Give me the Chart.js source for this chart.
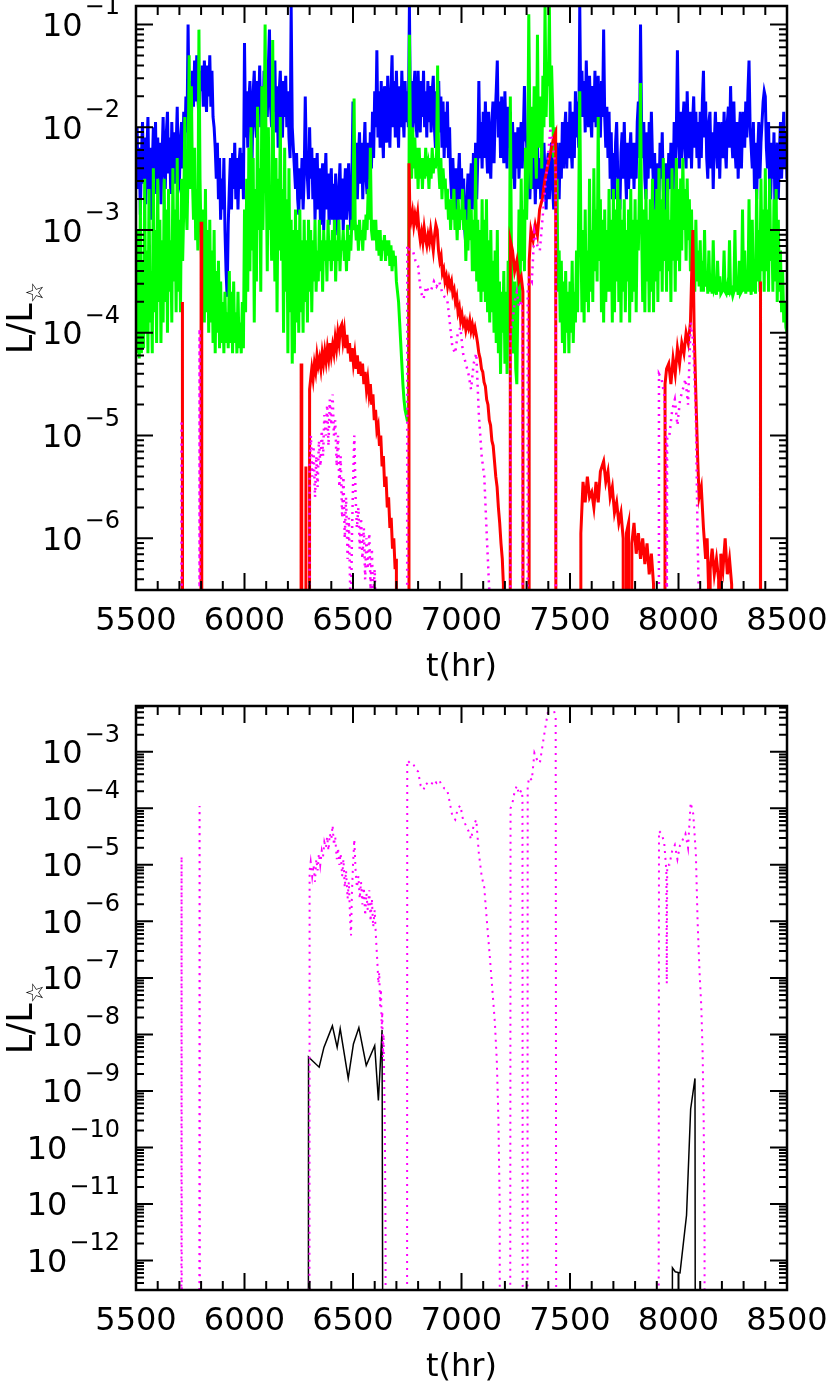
<!DOCTYPE html>
<html>
<head>
<meta charset="utf-8">
<script src="https://cdn.jsdelivr.net/npm/chart.js@4.4.1/dist/chart.umd.min.js"></script>
<style>
html, body { margin: 0; padding: 0; background: #fff; overflow: hidden; }
canvas { display: block; }
</style>
</head>
<body>
<canvas id="topChart" width="830" height="700"></canvas>
<canvas id="bottomChart" width="830" height="700"></canvas>
<script>
// x axis: time in hours
const X_MIN = 5500, X_MAX = 8500;
const X_TICKS = [5500, 6000, 6500, 7000, 7500, 8000, 8500];

// y axis ranges (log10 of L/L*)
const TOP_LOG_RANGE = [-6.503, -0.82];
const BOTTOM_LOG_RANGE = [-12.488, -2.189];

// value used where a curve drops to zero (off the bottom of the plot)
const OFF = -30;

// blue and green are sampled every 5 hr from 5500 hr; one row = 100 hr
const GRID_T0 = 5500, GRID_STEP = 5;

// log10(L/L*)
const blueLog = [
  -2.4,-2.0,-2.6,-2.2,-2.85,-2.3,-1.95,-2.55,-2.1,-2.75,-2.25,-1.9,-2.6,-2.2,-2.9,-2.4,-2.0,-2.5,-1.95,-2.65,
  -2.1,-2.5,-2.15,-2.75,-2.3,-1.9,-2.4,-2.6,-2.05,-1.85,-2.45,-2.1,-2.65,-1.95,-2.4,-2.05,-2.55,-2.2,-1.8,-2.5,
  -2.55,-2.1,-1.95,-2.4,-1.85,-2.2,-1.7,-2.05,-1.0,-1.9,-1.55,-1.95,-1.45,-1.8,-1.35,-1.75,-1.3,-1.7,-1.9,-1.45,
  -1.65,-1.4,-1.8,-1.35,-1.6,-1.85,-1.4,-1.7,-1.3,-1.8,-1.45,-1.9,-2.0,-2.2,-2.5,-2.15,-2.7,-2.3,-2.9,-2.5,
  -2.8,-2.3,-3.0,-3.4,-3.65,-2.95,-2.6,-2.3,-2.8,-2.25,-2.6,-2.15,-2.7,-2.3,-2.8,-2.35,-2.2,-2.6,-2.25,-2.7,
  -1.18,-2.1,-1.65,-2.2,-1.75,-1.55,-2.0,-2.3,-1.65,-1.45,-1.95,-2.1,-1.55,-1.85,-1.4,-2.0,-1.6,-2.15,-1.45,-1.9,
  -1.5,-1.9,-1.4,-1.05,-1.8,-2.0,-1.5,-1.85,-1.35,-2.05,-1.6,-2.2,-1.65,-1.45,-1.95,-2.1,-1.55,-1.9,-1.5,-2.0,
  -1.65,-2.1,-2.3,-0.82,-2.0,-2.2,-2.4,-2.6,-2.25,-2.7,-2.85,-2.4,-2.7,-2.3,-2.8,-2.5,-1.7,-2.3,-2.5,-2.7,
  -2.0,-2.5,-2.2,-2.7,-2.3,-2.9,-2.5,-2.25,-2.8,-2.4,-2.95,-2.6,-2.35,-3.0,-2.55,-2.25,-2.8,-2.45,-2.95,-2.6,
  -2.4,-2.9,-2.55,-3.0,-2.45,-2.8,-3.05,-2.6,-2.35,-2.9,-2.5,-3.0,-2.65,-2.4,-2.9,-2.55,-2.35,-2.8,-3.0,-2.5,
  -1.75,-2.4,-2.6,-2.15,-2.7,-2.3,-2.05,-2.55,-2.15,-2.7,-2.25,-1.95,-2.5,-2.65,-2.15,-2.5,-2.05,-2.4,-1.85,-2.3,
  -1.65,-2.0,-1.25,-2.1,-1.65,-2.2,-1.55,-2.0,-2.3,-1.6,-1.95,-2.15,-1.5,-1.9,-2.2,-1.65,-1.3,-2.0,-1.55,-2.1,
  -1.45,-1.9,-2.2,-1.6,-2.0,-1.45,-1.85,-2.1,-1.55,-1.95,-1.65,-2.0,-0.82,-2.0,-1.55,-2.05,-1.65,-1.45,-1.95,-2.1,
  -1.45,-1.85,-2.05,-1.55,-1.9,-1.45,-2.0,-1.65,-2.1,-1.55,-1.95,-1.6,-2.05,-1.65,-1.5,-2.0,-2.2,-1.65,-1.95,-1.55,
  -2.05,-1.7,-2.2,-1.75,-2.3,-1.85,-2.2,-1.75,-2.3,-2.0,-2.5,-2.7,-2.3,-2.6,-2.9,-2.4,-2.8,-2.5,-2.25,-2.7,
  -2.4,-2.8,-2.5,-3.0,-3.15,-2.7,-2.45,-2.9,-2.6,-2.35,-2.8,-2.25,-2.6,-2.15,-2.7,-2.3,-1.55,-2.3,-1.95,-2.4,
  -1.85,-2.3,-1.75,-2.2,-2.45,-1.85,-2.3,-2.5,-1.95,-1.75,-2.35,-1.9,-1.65,-1.35,-2.1,-1.75,-2.3,-1.7,-2.1,-2.35,
  -1.65,-2.1,-2.4,-1.8,-2.2,-1.85,-2.5,-1.95,-2.3,-2.6,-2.05,-2.4,-2.0,-2.5,-2.15,-1.95,-2.4,-2.05,-1.6,-2.1,
  -2.15,-2.6,-2.25,-2.7,-2.35,-2.1,-2.6,-2.25,-2.75,-2.35,-2.15,-2.6,-2.3,-2.7,-2.25,-2.6,-2.15,-2.5,-2.8,-2.35,
  -2.25,-2.7,-2.35,-2.15,-2.6,-2.8,-2.25,-2.6,-2.15,-2.5,-2.7,-2.15,-2.5,-1.95,-2.4,-2.05,-1.85,-2.4,-1.95,-2.3,
  -1.75,-2.2,-2.4,-1.85,-2.3,-1.65,-2.1,-1.75,-2.2,-0.82,-1.9,-1.45,-1.9,-1.55,-2.05,-1.35,-1.8,-2.0,-1.5,-1.9,
  -2.1,-1.6,-1.95,-1.45,-2.0,-1.65,-1.5,-2.0,-2.1,-1.55,-1.9,-1.05,-1.9,-2.2,-1.8,-2.3,-1.85,-2.5,-2.05,-2.7,
  -2.25,-2.7,-2.15,-1.95,-2.45,-2.6,-2.8,-2.25,-2.05,-2.5,-1.95,-2.4,-2.7,-2.15,-2.6,-2.25,-2.05,-2.5,-2.15,-2.6,
  -2.15,-2.5,-1.95,-1.75,-2.3,-1.0,-2.0,-2.3,-1.95,-2.5,-2.7,-2.05,-2.5,-1.95,-2.4,-1.85,-2.3,-2.6,-2.25,-2.8,
  -2.9,-2.35,-2.7,-2.15,-2.5,-2.05,-2.6,-2.8,-2.35,-3.05,-2.65,-2.25,-2.6,-2.15,-2.5,-2.7,-1.95,-2.4,-2.05,-1.25,
  -2.05,-2.4,-1.85,-2.3,-1.95,-1.75,-2.2,-2.4,-1.65,-2.1,-2.3,-1.85,-2.4,-1.95,-1.7,-2.2,-1.85,-2.3,-1.95,-2.4,
  -1.85,-2.3,-1.75,-1.45,-2.1,-1.75,-2.3,-2.5,-1.95,-1.85,-2.4,-2.05,-2.6,-2.15,-1.85,-2.2,-2.4,-1.95,-2.5,-2.05,
  -1.95,-2.3,-1.85,-2.2,-2.4,-1.95,-1.8,-2.2,-1.6,-2.1,-2.3,-1.75,-2.2,-2.4,-1.95,-2.5,-2.05,-1.85,-2.4,-1.95,
  -1.85,-2.2,-1.75,-2.1,-1.65,-1.35,-2.0,-2.2,-2.4,-1.95,-2.6,-2.15,-2.7,-2.25,-1.95,-2.5,-2.15,-1.95,-1.75,-1.65,
  -1.7,-2.2,-2.4,-1.95,-2.6,-2.7,-2.15,-2.5,-2.05,-2.9,-2.4,-2.15,-2.7,-2.25,-1.95,-2.5,-2.15,-1.85,-2.4,-2.05,
  -2.5
];

const greenLog = [
  -3.5,-4.2,-3.0,-4.25,-2.7,-4.2,-3.3,-4.15,-2.5,-4.0,-3.2,-4.2,-2.6,-3.9,-3.4,-4.2,-2.4,-3.8,-3.0,-4.1,
  -2.5,-3.7,-2.9,-4.1,-3.1,-3.9,-2.5,-3.7,-2.8,-4.0,-2.6,-3.6,-3.1,-3.9,-2.4,-3.5,-2.8,-3.8,-2.3,-3.6,
  -2.9,-3.8,-2.5,-3.3,-2.8,-1.9,-2.7,-3.0,-2.4,-1.3,-2.6,-1.6,-2.5,-2.9,-2.2,-3.1,-2.6,-3.2,-1.05,-2.5,
  -3.1,-3.6,-2.8,-3.9,-2.6,-3.8,-3.0,-4.0,-2.9,-3.9,-3.2,-4.1,-3.0,-4.2,-3.4,-4.0,-3.3,-4.15,-3.5,-4.1,
  -3.7,-4.2,-3.6,-4.1,-3.8,-4.15,-3.4,-4.1,-3.6,-4.2,-3.5,-4.1,-3.8,-4.2,-3.6,-4.15,-3.9,-4.2,-3.7,-4.15,
  -2.8,-3.8,-2.5,-3.6,-2.2,-3.4,-2.0,-3.2,-2.3,-3.9,-2.6,-3.5,-1.8,-3.0,-2.4,-3.6,-1.6,-3.0,-2.2,-1.0,
  -2.4,-3.4,-2.0,-3.0,-2.6,-3.3,-1.15,-2.6,-3.5,-2.3,-3.8,-2.5,-3.2,-1.9,-3.3,-2.6,-4.0,-2.2,-3.6,-2.7,
  -4.2,-2.4,-3.8,-2.9,-4.3,-3.0,-4.2,-2.8,-3.9,-3.0,-4.0,-2.8,-3.8,-3.1,-4.0,-2.9,-3.7,-3.1,-3.9,-2.9,
  -3.6,-3.0,-3.8,-3.1,-3.5,-2.9,-3.6,-3.2,-3.5,-2.9,-3.4,-3.1,-3.6,-3.0,-3.3,-3.1,-3.5,-2.9,-3.3,-3.1,
  -3.4,-3.0,-3.3,-2.9,-3.5,-3.1,-3.3,-2.9,-3.4,-3.1,-3.2,-3.0,-3.3,-3.1,-3.4,-2.95,-3.3,-3.05,-3.2,-2.9,
  -3.0,-1.72,-2.9,-3.1,-2.95,-3.2,-2.9,-3.1,-3.0,-3.2,-2.9,-3.1,-2.85,-3.0,-2.6,-2.9,-2.2,-3.0,-3.1,-2.9,
  -3.1,-2.9,-3.2,-3.0,-3.25,-3.0,-3.3,-3.1,-3.2,-3.05,-3.3,-3.1,-3.25,-3.1,-3.35,-3.15,-3.4,-3.2,-3.35,-3.25,
  -3.5,-3.6,-3.7,-3.9,-4.1,-4.3,-4.5,-4.65,-4.75,-4.8,-4.85,-4.85,-1.1,-2.2,-2.5,-2.0,-2.4,-2.1,-2.5,-2.2,
  -2.6,-2.2,-2.5,-2.3,-2.6,-2.3,-2.5,-2.2,-2.4,-2.35,-2.6,-2.3,-2.5,-2.2,-2.45,-2.3,-2.4,-2.25,-1.4,-2.4,
  -2.6,-2.3,-2.7,-2.4,-2.6,-2.5,-2.8,-2.6,-2.9,-2.7,-3.0,-2.7,-2.9,-2.6,-3.0,-2.8,-3.1,-2.7,-3.0,-2.8,
  -2.9,-2.6,-3.0,-2.8,-3.3,-2.9,-3.2,-2.7,-3.1,-2.8,-3.4,-2.9,-3.4,-2.3,-3.5,-2.9,-3.6,-3.0,-3.7,-2.7,
  -3.6,-2.9,-3.7,-2.7,-3.8,-3.1,-3.9,-3.0,-3.8,-3.3,-4.0,-3.2,-4.1,-3.0,-4.2,-3.5,-4.4,-3.6,-4.0,-3.4,
  -4.3,-3.6,-4.4,-3.3,-3.9,-1.7,-3.2,-4.0,-4.2,-3.5,-4.35,-4.5,-3.6,-2.8,-3.7,-2.5,-3.3,-2.8,-3.4,-2.2,
  -2.9,-2.4,-0.9,-2.0,-2.6,-1.8,-2.3,-1.6,-2.2,-2.5,-1.1,-2.2,-1.9,-1.7,-2.4,-1.5,-2.0,-0.82,-1.9,-1.4,
  -1.6,-0.82,-2.0,-1.4,-1.8,-2.3,-2.0,-2.8,-2.5,-3.6,-3.2,-3.9,-3.3,-4.1,-3.5,-4.2,-3.4,-4.0,-3.6,-4.2,
  -3.5,-4.0,-3.3,-4.1,-3.6,-3.9,-3.2,-3.8,-2.8,-1.65,-3.0,-3.8,-3.0,-3.9,-2.8,-3.7,-3.2,-3.8,-2.5,-3.6,
  -3.0,-3.7,-2.4,-3.4,-2.8,-3.5,-1.9,-3.3,-2.7,-3.8,-2.9,-3.9,-2.8,-3.7,-3.0,-3.6,-2.6,-3.6,-2.9,-3.9,
  -2.6,-3.8,-2.8,-3.5,-2.5,-3.7,-2.7,-3.9,-2.9,-3.6,-2.7,-3.8,-3.0,-3.5,-2.8,-3.9,-2.6,-3.7,-2.9,-3.6,
  -2.7,-3.8,-2.9,-3.2,-2.6,-1.57,-3.0,-3.7,-2.8,-3.8,-2.6,-3.5,-2.9,-3.8,-2.7,-3.6,-2.5,-3.8,-2.8,-3.5,
  -2.6,-3.7,-2.4,-3.4,-2.7,-3.6,-2.3,-3.3,-2.8,-3.6,-2.5,-3.4,-2.9,-3.7,-2.4,-3.3,-2.6,-3.6,-2.3,-3.3,
  -2.6,-3.4,-2.5,-3.2,-2.3,-3.0,-2.6,-3.3,-2.5,-3.1,-2.7,-3.4,-2.8,-3.5,-3.0,-3.6,-2.9,-3.5,-3.2,-3.55,
  -3.1,-3.6,-3.3,-3.6,-3.0,-3.55,-3.4,-3.62,-3.2,-3.6,-3.5,-3.62,-3.1,-3.58,-3.55,-3.63,-3.3,-3.6,-3.45,-3.62,
  -3.6,-3.58,-3.2,-3.6,-3.62,-3.55,-3.63,-3.1,-3.6,-3.58,-3.64,-3.6,-3.0,-3.6,-3.5,-3.63,-3.3,-3.62,-3.6,-2.8,
  -3.6,-3.2,-3.62,-3.4,-3.6,-2.7,-3.5,-3.63,-2.9,-3.6,-3.3,-3.62,-2.6,-3.5,-3.0,-3.6,-2.5,-3.4,-2.8,-3.6,
  -2.4,-3.4,-2.8,-3.6,-2.5,-3.3,-3.0,-3.6,-2.7,-3.5,-2.6,-3.7,-2.9,-3.6,-3.2,-3.8,-3.4,-3.9,-3.7,-3.95,
  -4.0
];

// [t(hr), log10(L/L*)]
const red = [
  [5500,OFF],[5711,OFF],[5714,-3.7],[5717,OFF],
  [5797,OFF],[5800,-2.92],[5803,OFF],
  [6258,OFF],[6261,-4.3],[6264,OFF],
  [6280,OFF],[6283,-5.3],[6286,OFF],
  [6297,OFF],[6300,-4.55],[6305,-4.45],[6310,-4.35],[6316,-4.45],[6322,-4.3],[6328,-4.38],[6334,-4.22],[6340,-4.32],[6346,-4.25],
  [6352,-4.35],[6358,-4.2],[6364,-4.3],[6370,-4.18],[6376,-4.28],[6382,-4.15],[6388,-4.25],[6394,-4.1],[6400,-4.22],[6406,-4.12],
  [6412,-4.2],[6418,-4.05],[6424,-4.15],[6430,-4.0],[6436,-4.1],[6442,-3.95],[6448,-3.92],[6454,-4.08],[6460,-3.98],[6466,-4.15],
  [6472,-4.02],[6478,-4.2],[6484,-4.1],[6490,-4.28],[6496,-4.15],[6502,-4.3],[6508,-4.2],[6514,-4.35],[6520,-4.22],[6526,-4.4],
  [6532,-4.28],[6538,-4.42],[6544,-4.3],[6550,-4.5],[6556,-4.38],[6562,-4.55],[6568,-4.45],[6574,-4.6],[6580,-4.5],[6586,-4.7],
  [6592,-4.6],[6598,-4.85],[6604,-4.75],[6610,-4.95],[6616,-4.9],[6622,-5.1],[6628,-5.0],[6634,-5.3],[6640,-5.2],[6646,-5.5],
  [6652,-5.4],[6658,-5.7],[6664,-5.6],[6670,-5.9],[6676,-5.8],[6682,-6.1],[6688,-6.0],[6694,-6.3],[6700,-6.2],[6705,OFF],
  [6755,OFF],[6758,-2.35],[6762,-2.8],[6768,-2.9],[6774,-2.82],[6780,-2.95],[6786,-2.85],[6792,-2.92],[6798,-2.83],[6804,-3.0],
  [6810,-3.1],[6816,-3.02],[6822,-3.12],[6828,-2.98],[6834,-3.08],[6840,-3.15],[6846,-3.05],[6852,-3.12],[6858,-3.0],[6864,-3.1],
  [6870,-3.2],[6876,-3.05],[6882,-2.95],[6888,-3.0],[6894,-3.2],[6900,-3.3],[6906,-3.25],[6912,-3.42],[6918,-3.38],[6924,-3.5],
  [6930,-3.45],[6936,-3.55],[6942,-3.48],[6948,-3.55],[6954,-3.5],[6960,-3.62],[6966,-3.58],[6972,-3.7],[6978,-3.65],[6984,-3.8],
  [6990,-3.75],[6996,-3.88],[7002,-3.82],[7008,-3.92],[7014,-3.88],[7020,-3.97],[7026,-3.9],[7032,-3.95],[7038,-3.88],[7044,-3.98],
  [7050,-3.92],[7056,-4.0],[7062,-3.95],[7068,-4.02],[7074,-4.1],[7080,-4.2],[7086,-4.25],[7092,-4.35],[7098,-4.38],[7104,-4.48],
  [7110,-4.52],[7116,-4.65],[7122,-4.7],[7128,-4.85],[7134,-4.9],[7140,-5.05],[7146,-5.1],[7152,-5.25],[7158,-5.4],[7164,-5.5],
  [7170,-5.7],[7176,-5.85],[7182,-6.05],[7188,-6.2],[7193,-6.45],[7197,OFF],
  [7222,OFF],[7225,-3.1],[7235,-3.2],[7245,-3.4],[7255,-3.3],[7265,-3.5],[7275,-3.45],[7283,-3.6],[7286,OFF],
  [7309,OFF],[7312,-3.3],[7320,-3.0],[7330,-3.1],[7340,-2.95],[7350,-3.05],[7360,-2.8],[7372,-2.7],[7385,-2.5],[7395,-2.4],
  [7405,-2.3],[7415,-2.2],[7425,-2.1],[7434,-2.05],[7439,OFF],
  [7548,OFF],[7550,-5.95],[7560,-5.45],[7570,-5.65],[7580,-5.4],[7590,-5.6],[7600,-5.55],[7610,-5.7],[7620,-5.45],[7630,-5.65],
  [7640,-5.35],[7655,-5.25],[7665,-5.45],[7675,-5.35],[7685,-5.6],[7695,-5.5],[7705,-5.75],[7715,-5.65],[7725,-5.85],[7735,-5.75],
  [7745,-6.0],[7752,OFF],[7760,-5.95],[7770,-5.85],[7778,OFF],[7785,-6.05],[7795,-5.85],[7805,-6.15],[7815,-5.95],[7825,-6.2],
  [7835,-6.0],[7845,-6.25],[7855,-6.05],[7865,-6.35],[7875,-6.15],[7885,-6.45],[7895,OFF],
  [7935,OFF],[7938,-4.5],[7945,-4.35],[7955,-4.3],[7965,-4.5],[7975,-4.25],[7985,-4.4],[7995,-4.15],[8005,-4.3],[8015,-4.1],
  [8025,-4.2],[8035,-4.0],[8045,-4.1],[8055,-3.9],[8066,-3.0],[8072,-3.95],[8080,-4.6],[8088,-5.2],[8095,-5.6],[8105,-5.5],
  [8115,-5.9],[8125,-6.2],[8132,-6.0],[8138,-6.45],[8141,OFF],[8146,-6.3],[8155,-6.1],[8165,-6.35],[8175,-6.2],[8185,-6.4],
  [8190,OFF],[8195,-6.15],[8205,-6.3],[8215,-6.0],[8225,-6.35],[8235,-6.2],[8245,-6.45],[8250,OFF],
  [8375,OFF],[8378,-3.5],[8381,OFF],[8500,OFF]
];

// magenta: early spikes, shared by both panels
const magentaStart = [
  [5500,OFF],[5707,OFF],[5710,-4.85],[5713,OFF],
  [5790,OFF],[5793,-3.96],[5797,OFF]
];
// magenta 6300-6650 as drawn in the upper panel
const magentaBurstTop = [
  [6298,OFF],[6300,-5.3],[6306,-5.0],[6312,-5.4],[6318,-5.1],[6325,-5.6],[6331,-5.2],[6337,-5.5],[6343,-5.05],[6350,-5.3],
  [6356,-4.95],[6362,-5.2],[6368,-4.8],[6375,-5.0],[6381,-4.7],[6387,-5.1],[6393,-4.65],[6400,-4.9],[6406,-4.6],[6412,-5.0],
  [6418,-4.85],[6425,-5.3],[6431,-5.0],[6437,-5.5],[6443,-5.2],[6450,-5.8],[6456,-5.4],[6462,-6.0],[6468,-5.6],[6475,-6.2],
  [6481,-5.8],[6487,-6.5],[6491,-6.7],[6495,-6.0],[6500,-5.5],[6506,-5.0],[6512,-5.6],[6518,-5.9],[6525,-5.7],[6531,-6.1],
  [6537,-5.8],[6543,-6.2],[6550,-5.9],[6556,-6.4],[6562,-6.0],[6568,-6.3],[6575,-5.95],[6581,-6.5],[6587,-6.1],[6593,-6.6],
  [6600,-6.3],[6606,-6.8],[6612,-7.2],[6620,OFF]
];
// magenta 6300-6650 as drawn in the lower panel
const magentaBurstBottom = [
  [6298,OFF],[6300,-5.1],[6305,-4.95],[6312,-5.2],[6318,-5.0],[6325,-5.3],[6331,-4.9],[6337,-5.1],[6343,-4.8],[6349,-5.0],
  [6356,-4.75],[6362,-4.85],[6368,-4.6],[6375,-4.7],[6381,-4.5],[6387,-4.75],[6393,-4.45],[6400,-4.55],[6406,-4.3],[6412,-4.65],
  [6418,-4.5],[6425,-4.9],[6431,-4.7],[6437,-5.0],[6443,-4.8],[6450,-5.2],[6456,-4.9],[6462,-5.4],[6468,-5.1],[6475,-5.6],
  [6481,-5.3],[6487,-6.0],[6491,-6.25],[6495,-5.5],[6500,-5.0],[6506,-4.55],[6512,-5.1],[6518,-5.4],[6525,-5.2],[6531,-5.6],
  [6537,-5.3],[6543,-5.7],[6550,-5.4],[6556,-5.9],[6562,-5.5],[6568,-5.8],[6575,-5.45],[6581,-6.0],[6587,-5.6],[6593,-6.1],
  [6600,-5.8],[6606,-6.3],[6612,-6.7],[6617,-7.1],[6621,-6.9],[6625,-7.5],[6629,-7.2],[6632,-7.9],[6635,-7.6],[6638,-8.4],
  [6641,-8.0],[6644,-8.8],[6647,-9.8],[6650,-11.5],[6653,OFF]
];
// magenta from 6750 hr on, shared by both panels
const magentaLate = [
  [6748,OFF],[6750,-3.15],[6763,-3.2],[6776,-3.2],[6788,-3.3],[6800,-3.35],[6812,-3.6],[6825,-3.67],[6837,-3.55],[6849,-3.6],
  [6861,-3.58],[6873,-3.5],[6885,-3.55],[6897,-3.5],[6910,-3.6],[6922,-3.65],[6934,-3.67],[6946,-3.9],[6958,-4.14],[6971,-4.2],
  [6983,-4.0],[6995,-3.95],[7007,-4.2],[7020,-4.3],[7032,-4.4],[7044,-4.55],[7056,-4.3],[7068,-4.2],[7080,-4.8],[7093,-5.2],
  [7105,-5.4],[7117,-6.0],[7130,-6.6],[7142,-7.2],[7154,-7.8],[7163,-8.5],[7170,-9.5],[7176,-11.0],[7180,OFF],
  [7222,OFF],[7226,-4.0],[7235,-3.9],[7245,-3.7],[7255,-3.6],[7265,-3.75],[7276,-3.68],[7281,-3.8],[7284,OFF],
  [7302,OFF],[7305,-3.6],[7312,-3.45],[7324,-3.5],[7336,-3.02],[7349,-3.15],[7361,-3.2],[7373,-2.9],[7385,-2.6],[7398,-2.3],
  [7410,-2.0],[7422,-2.2],[7434,-2.4],[7440,OFF],
  [7906,OFF],[7910,-4.4],[7922,-4.45],[7934,-4.6],[7944,-5.1],[7946,-7.1],[7948,-5.0],[7958,-5.0],[7971,-4.75],[7983,-4.65],
  [7995,-4.9],[8007,-4.65],[8020,-4.55],[8032,-4.45],[8044,-4.7],[8056,-3.9],[8068,-4.1],[8080,-4.8],[8088,-6.0],[8097,-6.9],
  [8105,-7.5],[8111,-8.3],[8116,-9.5],[8120,-11.5],[8123,OFF],[8500,OFF]
];

const black = [
  [5500,OFF],[6292,OFF],[6295,-8.4],[6344,-8.58],[6366,-8.23],[6405,-7.85],[6427,-8.23],[6441,-7.9],[6478,-8.78],[6502,-8.17],
  [6527,-7.88],[6561,-8.55],[6600,-8.2],[6617,-9.17],[6634,-7.92],[6646,OFF],
  [7968,OFF],[7972,-12.13],[7985,-12.2],[8007,-12.22],[8037,-11.2],[8056,-9.32],[8076,-8.78],[8082,OFF],[8500,OFF]
];

const FONT = 'DejaVu Sans';

function pairPoints(pairs) {
  return pairs.map(p => ({ x: p[0], y: Math.pow(10, p[1]) }));
}
function gridPoints(logs) {
  return logs.map((v, i) => ({ x: GRID_T0 + i * GRID_STEP, y: Math.pow(10, v) }));
}

// frame, inward ticks on all four sides, decade labels and the y title
const axisDecor = {
  id: 'axisDecor',
  afterDraw(chart) {
    const { ctx, chartArea: a } = chart;
    const xs = chart.scales.x, ys = chart.scales.y;
    const lo = Math.log10(ys.min), hi = Math.log10(ys.max);
    ctx.save();
    ctx.strokeStyle = '#000';
    ctx.lineWidth = 2;
    ctx.beginPath();
    for (let t = X_MIN; t <= X_MAX; t += 100) {
      const px = xs.getPixelForValue(t);
      const len = t % 500 === 0 ? 17 : 9;
      ctx.moveTo(px, a.bottom); ctx.lineTo(px, a.bottom - len);
      ctx.moveTo(px, a.top); ctx.lineTo(px, a.top + len);
    }
    for (let e = Math.floor(lo); e <= Math.ceil(hi); e++) {
      for (let m = 1; m < 10; m++) {
        const lv = e + Math.log10(m);
        if (lv < lo - 1e-9 || lv > hi + 1e-9) continue;
        const py = ys.getPixelForValue(Math.pow(10, lv));
        const len = m === 1 ? 17 : 8;
        ctx.moveTo(a.left, py); ctx.lineTo(a.left + len, py);
        ctx.moveTo(a.right, py); ctx.lineTo(a.right - len, py);
      }
    }
    ctx.stroke();
    ctx.lineWidth = 2.5;
    ctx.strokeRect(a.left, a.top, a.right - a.left, a.bottom - a.top);

    ctx.fillStyle = '#000';
    ctx.textAlign = 'right';
    ctx.textBaseline = 'alphabetic';
    for (let e = Math.ceil(lo - 1e-9); e <= Math.floor(hi + 1e-9); e++) {
      const py = ys.getPixelForValue(Math.pow(10, e));
      const exp = '\u2212' + Math.abs(e);
      ctx.font = '24px "' + FONT + '"';
      const ew = ctx.measureText(exp).width;
      ctx.fillText(exp, 120, py - 10);
      ctx.font = '32px "' + FONT + '"';
      ctx.fillText('10', 120 - ew - 2, py + 11.5);
    }

    // L/L☆ rotated
    ctx.translate(32, 318);
    ctx.rotate(-Math.PI / 2);
    ctx.textAlign = 'left';
    ctx.font = '35px "' + FONT + '"';
    const mw = ctx.measureText('L/L').width;
    ctx.font = '24px "' + FONT + '"';
    const sw = ctx.measureText('\u2606').width;
    const x0 = -(mw + sw) / 2;
    ctx.font = '35px "' + FONT + '"';
    ctx.fillText('L/L', x0, 0);
    ctx.font = '24px "' + FONT + '"';
    ctx.fillText('\u2606', x0 + mw, 11);
    ctx.restore();
  }
};

function makeChart(id, datasets, logRange) {
  return new Chart(document.getElementById(id), {
    type: 'line',
    data: { datasets },
    options: {
      responsive: false,
      animation: false,
      devicePixelRatio: 1,
      layout: { padding: { top: 6, right: 43, left: 0, bottom: 0 } },
      plugins: { legend: { display: false }, tooltip: { enabled: false } },
      elements: { point: { radius: 0 }, line: { tension: 0 } },
      scales: {
        x: {
          type: 'linear',
          min: X_MIN,
          max: X_MAX,
          grid: { display: false, drawTicks: false },
          border: { display: false },
          afterBuildTicks: s => { s.ticks = X_TICKS.map(v => ({ value: v })); },
          ticks: {
            autoSkip: false,
            maxRotation: 0,
            padding: 12,
            color: '#000',
            font: { family: FONT, size: 32 },
            callback: v => String(v)
          },
          title: {
            display: true,
            text: 't(hr)',
            color: '#000',
            font: { family: FONT, size: 32 },
            padding: { top: 0, bottom: 13 }
          },
          afterFit: s => { s.height = 110; s.paddingLeft = 0; s.paddingRight = 0; }
        },
        y: {
          type: 'logarithmic',
          min: Math.pow(10, logRange[0]),
          max: Math.pow(10, logRange[1]),
          grid: { display: false, drawTicks: false },
          border: { display: false },
          ticks: { display: false },
          afterFit: s => { s.width = 136; }
        }
      }
    },
    plugins: [axisDecor]
  });
}

const magentaTop = magentaStart.concat(magentaBurstTop, magentaLate);
const magentaBottom = magentaStart.concat(magentaBurstBottom, magentaLate);

// first dataset is drawn on top
makeChart('topChart', [
  { data: pairPoints(magentaTop), borderColor: '#ff00ff', borderWidth: 2.5, borderDash: [2, 5] },
  { data: pairPoints(red), borderColor: '#ff0000', borderWidth: 3 },
  { data: gridPoints(greenLog), borderColor: '#00ff00', borderWidth: 3 },
  { data: gridPoints(blueLog), borderColor: '#0000ff', borderWidth: 3 }
], TOP_LOG_RANGE);

makeChart('bottomChart', [
  { data: pairPoints(magentaBottom), borderColor: '#ff00ff', borderWidth: 2, borderDash: [2, 5] },
  { data: pairPoints(black), borderColor: '#000000', borderWidth: 1.5 }
], BOTTOM_LOG_RANGE);
</script>
</body>
</html>
